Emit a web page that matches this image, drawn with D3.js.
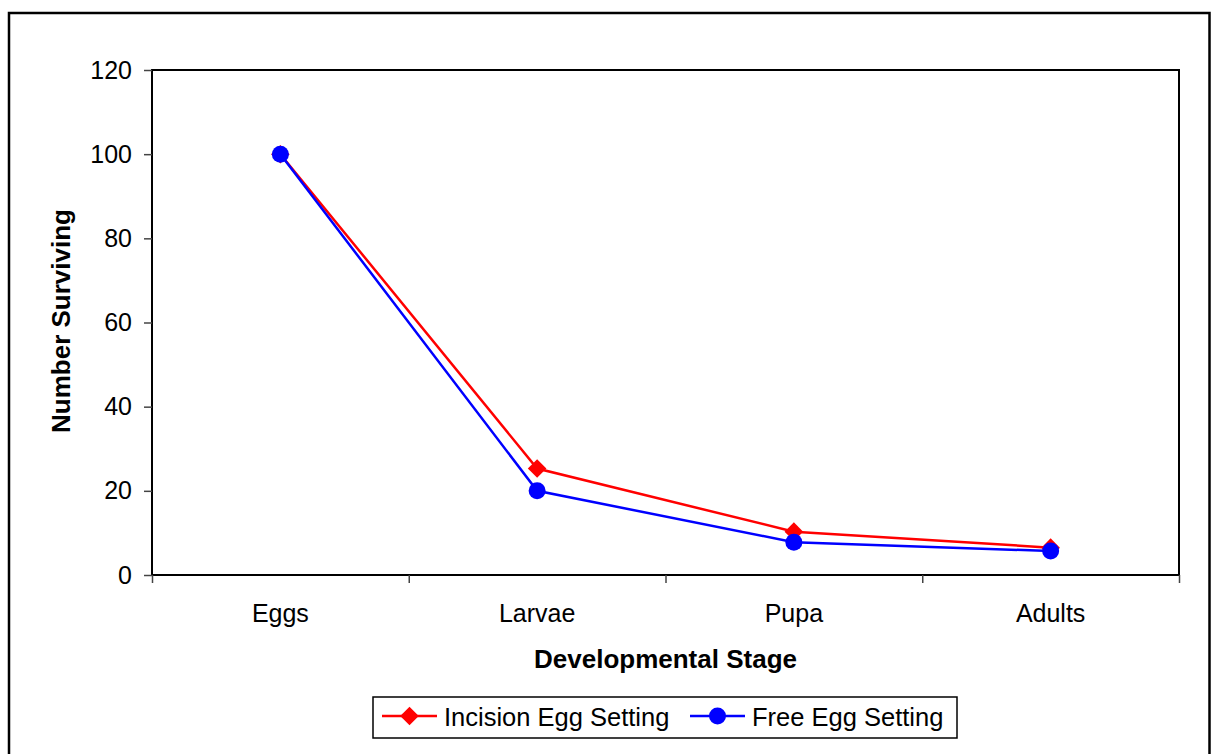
<!DOCTYPE html>
<html>
<head>
<meta charset="utf-8">
<script src="https://cdn.jsdelivr.net/npm/d3@7"></script>
<style>
  html, body { margin: 0; padding: 0; background: #fff; }
  svg { display: block; font-family: "Liberation Sans", Arial, sans-serif; }
</style>
</head>
<body>
<svg id="chart" width="1214" height="754"></svg>
<script>
// Survival across developmental stages for two egg-setting methods
const stages = ["Eggs", "Larvae", "Pupa", "Adults"];
const incisionEggSetting = [100, 25.3, 10.3, 6.5];
const freeEggSetting = [100, 20, 7.8, 5.7];
const yTicks = [0, 20, 40, 60, 80, 100, 120];
const seriesNames = ["Incision Egg Setting", "Free Egg Setting"];

const svg = d3.select("#chart");
const plot = { left: 152, top: 70, right: 1179, bottom: 575 };

// Outer chart frame
svg.append("rect")
  .attr("x", 9).attr("y", 13)
  .attr("width", 1200.5).attr("height", 760)
  .attr("fill", "#fff").attr("stroke", "#000").attr("stroke-width", 2.5);

const x = d3.scaleBand().domain(stages).range([plot.left, plot.right]).padding(0);
const y = d3.scaleLinear().domain([0, 120]).range([plot.bottom, plot.top]);
const xEdges = d3.scaleLinear().domain([0, stages.length]).range([plot.left, plot.right]);

// Plot area
svg.append("rect")
  .attr("x", plot.left).attr("y", plot.top)
  .attr("width", plot.right - plot.left).attr("height", plot.bottom - plot.top)
  .attr("fill", "#fff").attr("stroke", "#000").attr("stroke-width", 2);

// Y axis
const yAxis = svg.append("g")
  .attr("transform", `translate(${plot.left},0)`)
  .call(d3.axisLeft(y).tickValues(yTicks).tickSize(8).tickPadding(12).tickFormat(d3.format("d")));
yAxis.select(".domain").remove();
yAxis.selectAll(".tick line").attr("stroke", "#444").attr("stroke-width", 1.5);
yAxis.selectAll(".tick text")
  .attr("font-size", 25).attr("fill", "#000")
  .attr("font-family", "'Liberation Sans', Arial, sans-serif");

// X axis: tick marks on category boundaries
const xTickAxis = svg.append("g")
  .attr("transform", `translate(0,${plot.bottom})`)
  .call(d3.axisBottom(xEdges).tickValues(d3.range(0, stages.length + 1)).tickSize(8).tickFormat(""));
xTickAxis.select(".domain").remove();
xTickAxis.selectAll(".tick line").attr("stroke", "#444").attr("stroke-width", 1.5);

// X axis: category labels
const xLabelAxis = svg.append("g")
  .attr("transform", `translate(0,${plot.bottom})`)
  .call(d3.axisBottom(x).tickSize(0).tickPadding(29));
xLabelAxis.select(".domain").remove();
xLabelAxis.selectAll(".tick text")
  .attr("font-size", 25).attr("fill", "#000")
  .attr("font-family", "'Liberation Sans', Arial, sans-serif");

// Axis titles
svg.append("text")
  .attr("x", (plot.left + plot.right) / 2).attr("y", 668)
  .attr("text-anchor", "middle").attr("font-size", 26).attr("font-weight", "bold")
  .text("Developmental Stage");
svg.append("text")
  .attr("transform", "translate(70,321) rotate(-90)")
  .attr("text-anchor", "middle").attr("font-size", 26).attr("font-weight", "bold")
  .text("Number Surviving");

const cx = d => x(d) + x.bandwidth() / 2;
const line = d3.line().x(d => cx(d.stage)).y(d => y(d.value));

const diamond = d3.symbol().type(d3.symbolDiamond2).size(220);

const series = [
  { name: seriesNames[0], values: incisionEggSetting, color: "#ff0000", marker: "diamond" },
  { name: seriesNames[1], values: freeEggSetting, color: "#0000ff", marker: "circle" }
];

series.forEach(s => {
  const pts = stages.map((st, i) => ({ stage: st, value: s.values[i] }));
  const g = svg.append("g");
  g.append("path").datum(pts)
    .attr("d", line).attr("fill", "none")
    .attr("stroke", s.color).attr("stroke-width", 2.5);
  if (s.marker === "diamond") {
    g.selectAll("path.m").data(pts).enter().append("path").attr("class", "m")
      .attr("d", diamond)
      .attr("transform", d => `translate(${cx(d.stage)},${y(d.value)})`)
      .attr("fill", s.color);
  } else {
    g.selectAll("circle").data(pts).enter().append("circle")
      .attr("cx", d => cx(d.stage)).attr("cy", d => y(d.value)).attr("r", 8.5)
      .attr("fill", s.color);
  }
});

// Legend
const legend = svg.append("g");
legend.append("rect")
  .attr("x", 373).attr("y", 697).attr("width", 584).attr("height", 41)
  .attr("fill", "#fff").attr("stroke", "#000").attr("stroke-width", 1.5);
const legendItems = [
  { s: series[0], x0: 382 },
  { s: series[1], x0: 690 }
];
legendItems.forEach(it => {
  const g = legend.append("g");
  g.append("line")
    .attr("x1", it.x0).attr("x2", it.x0 + 55).attr("y1", 716).attr("y2", 716)
    .attr("stroke", it.s.color).attr("stroke-width", 2.5);
  if (it.s.marker === "diamond") {
    g.append("path").attr("d", diamond)
      .attr("transform", `translate(${it.x0 + 27.5},716)`).attr("fill", it.s.color);
  } else {
    g.append("circle").attr("cx", it.x0 + 27.5).attr("cy", 716).attr("r", 8.5).attr("fill", it.s.color);
  }
  g.append("text")
    .attr("x", it.x0 + 62).attr("y", 726)
    .attr("font-size", 25.5).attr("fill", "#000")
    .text(it.s.name);
});
</script>
</body>
</html>
